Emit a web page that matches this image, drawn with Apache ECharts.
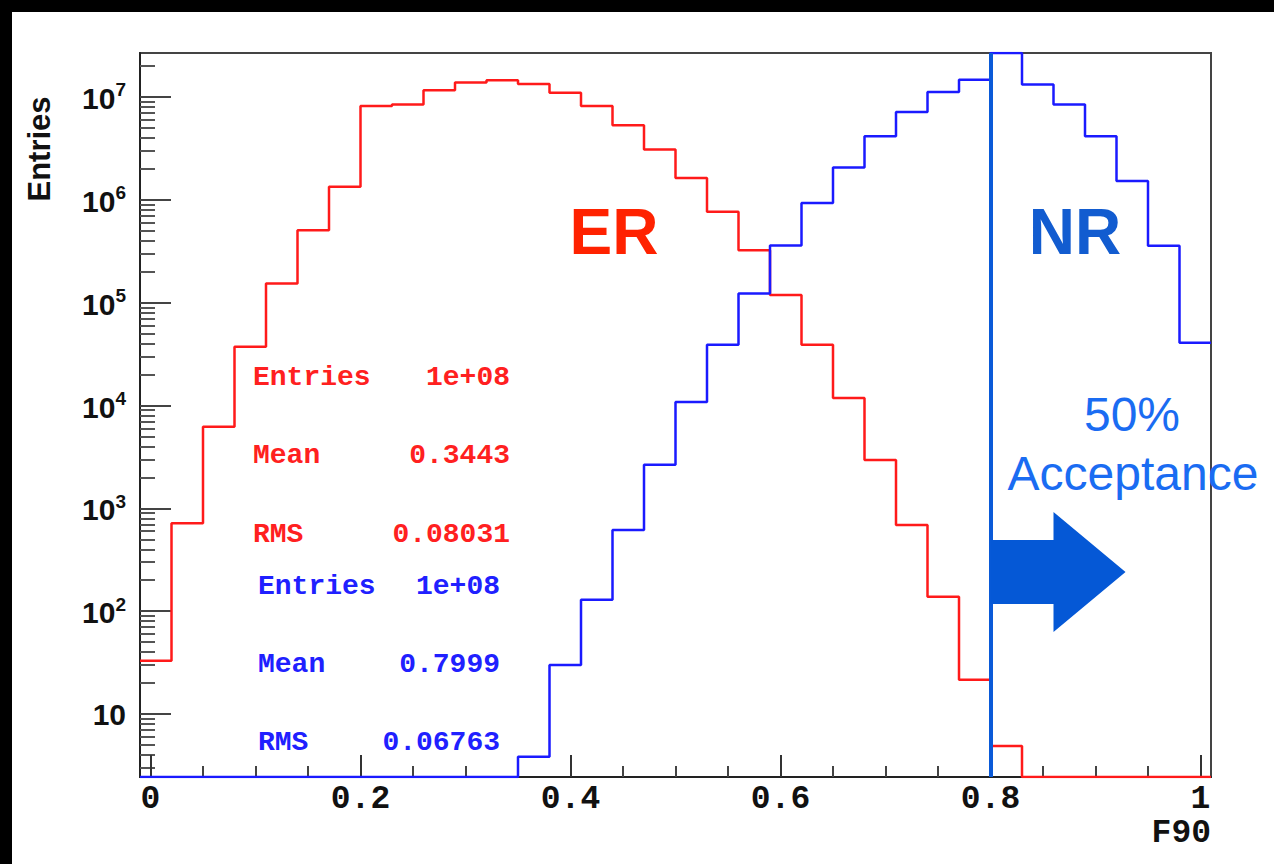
<!DOCTYPE html>
<html>
<head>
<meta charset="utf-8">
<script src="https://cdn.jsdelivr.net/npm/echarts@6/dist/echarts.min.js"></script>
<style>
html,body{margin:0;padding:0;background:#fff;}
#chart{width:1274px;height:864px;}
</style>
</head>
<body>
<div id="chart"></div>
<script>
// Bin edges of the F90 histogram (34 bins of width 0.03)
const binEdges = [-0.01,0.02,0.05,0.08,0.11,0.14,0.17,0.20,0.23,0.26,0.29,0.32,0.35,0.38,0.41,0.44,0.47,0.50,0.53,0.56,0.59,0.62,0.65,0.68,0.71,0.74,0.77,0.80,0.83,0.86,0.89,0.92,0.95,0.98,1.01];
// ER (electron recoil) entries per bin
const erCounts = [33,718,6220,37200,153800,507000,1340000,8180000,8440000,11600000,13800000,14500000,13400000,11000000,8180000,5310000,3080000,1630000,764000,324000,119000,39000,11800,2950,690,138,21.6,4.9,0,0,0,0,0,0];
// NR (nuclear recoil) entries per bin
const nrCounts = [0,0,0,0,0,0,0,0,0,0,0,0,3.85,30,129,615,2650,10800,39000,123000,359000,930000,2060000,4150000,7160000,11200000,14700000,29000000,13200000,8460000,4150000,1520000,357000,40700];
// Axis ticks
const xTickValues = [0,0.2,0.4,0.6,0.8,1];
const xMinorTickValues = [0.05,0.1,0.15,0.25,0.3,0.35,0.45,0.5,0.55,0.65,0.7,0.75,0.85,0.9,0.95];
const yDecadeValues = [10,100,1000,10000,100000,1000000,10000000];
// Stats boxes
const erStats = [['Entries','1e+08'],['Mean','0.3443'],['RMS','0.08031']];
const nrStats = [['Entries','1e+08'],['Mean','0.7999'],['RMS','0.06763']];
const cutValue = 0.8;

const yMin = 2.443, yMax = 2.676e7;
const yMinorTickValues = [];
for (let d = 1; d <= 1e7; d *= 10) {
  for (let k = 2; k <= 9; k++) {
    const v = k * d;
    if (v > yMin && v < yMax) yMinorTickValues.push(v);
  }
}

function clampY(v) { return Math.min(Math.max(v, yMin), yMax); }
function histPoints(counts) {
  return binEdges.map((x, i) => [x, clampY(counts[Math.min(i, counts.length - 1)])]);
}

const chart = echarts.init(document.getElementById('chart'), null, {renderer: 'svg'});
const axisColor = '#222';
const monoBold = {fontFamily: 'Liberation Mono', fontWeight: 'bold'};

const graphics = [
  {type:'rect', shape:{x:0,y:0,width:1274,height:12}, style:{fill:'#000'}, z:100},
  {type:'rect', shape:{x:0,y:0,width:12,height:864}, style:{fill:'#000'}, z:100},
  {type:'text', x:39, y:149, rotation:Math.PI/2, style:{text:'Entries', fontFamily:'Liberation Sans', fontWeight:'bold', fontSize:31, fill:'#111', align:'center', verticalAlign:'middle'}},
  {type:'text', x:1211, y:833, style:{text:'F90', fontFamily:'Liberation Mono', fontWeight:'bold', fontSize:33, fill:'#111', align:'right', verticalAlign:'middle'}},
  {type:'text', x:614, y:232, style:{text:'ER', fontFamily:'Liberation Sans', fontWeight:'bold', fontSize:64, fill:'#ff2200', align:'center', verticalAlign:'middle'}},
  {type:'text', x:1075, y:232, style:{text:'NR', fontFamily:'Liberation Sans', fontWeight:'bold', fontSize:64, fill:'#125cd0', align:'center', verticalAlign:'middle'}},
  {type:'text', x:1132, y:414, style:{text:'50%', fontFamily:'Liberation Sans', fontSize:48, fill:'#1a6cf2', align:'center', verticalAlign:'middle'}},
  {type:'text', x:1133, y:473, style:{text:'Acceptance', fontFamily:'Liberation Sans', fontSize:48, fill:'#1a6cf2', align:'center', verticalAlign:'middle'}}
];
const erY = [377, 455, 534], nrY = [586, 664, 742];
erStats.forEach((s, i) => {
  graphics.push({type:'text', x:253, y:erY[i], style:Object.assign({text:s[0], fontSize:28, fill:'#ff2020', align:'left', verticalAlign:'middle'}, monoBold)});
  graphics.push({type:'text', x:510, y:erY[i], style:Object.assign({text:s[1], fontSize:28, fill:'#ff2020', align:'right', verticalAlign:'middle'}, monoBold)});
});
nrStats.forEach((s, i) => {
  graphics.push({type:'text', x:258, y:nrY[i], style:Object.assign({text:s[0], fontSize:28, fill:'#2020ff', align:'left', verticalAlign:'middle'}, monoBold)});
  graphics.push({type:'text', x:500, y:nrY[i], style:Object.assign({text:s[1], fontSize:28, fill:'#2020ff', align:'right', verticalAlign:'middle'}, monoBold)});
});

const option = {
  backgroundColor: '#fff',
  animation: false,
  grid: {left:140, right:63, top:53, bottom:87, show:true, borderColor:'#444', borderWidth:2, backgroundColor:'transparent'},
  xAxis: [
    {type:'value', min:-0.01, max:1.01,
      axisLine:{show:true, onZero:false, lineStyle:{color:axisColor, width:2}},
      axisTick:{show:true, inside:true, length:22, customValues:xTickValues, lineStyle:{color:'#333', width:2}},
      axisLabel:{customValues:xTickValues, formatter:v => String(+v.toFixed(1)), fontFamily:'Liberation Mono', fontWeight:'bold', fontSize:33, color:'#111', margin:6},
      splitLine:{show:false}},
    {type:'value', min:-0.01, max:1.01, position:'bottom',
      axisLine:{show:false, onZero:false},
      axisTick:{show:true, inside:true, length:11, customValues:xMinorTickValues, lineStyle:{color:'#444', width:2}},
      axisLabel:{show:false}, splitLine:{show:false}}
  ],
  yAxis: [
    {type:'log', min:yMin, max:yMax,
      axisLine:{show:true, onZero:false, lineStyle:{color:axisColor, width:2}},
      axisTick:{show:true, inside:true, length:31, customValues:yDecadeValues, lineStyle:{color:'#444', width:2}},
      axisLabel:{customValues:yDecadeValues, margin:14, color:'#111',
        formatter: v => { const e = Math.round(Math.log10(v)); return e === 1 ? '{b|10}' : '{b|10}{s|' + e + '}'; },
        rich:{ b:{fontFamily:'Liberation Sans', fontWeight:'bold', fontSize:30, color:'#111', verticalAlign:'bottom'},
               s:{fontFamily:'Liberation Sans', fontWeight:'bold', fontSize:19, color:'#111', verticalAlign:'bottom', padding:[0,0,14,0]} }},
      splitLine:{show:false}},
    {type:'log', min:yMin, max:yMax, position:'left',
      axisLine:{show:false, onZero:false},
      axisTick:{show:true, inside:true, length:15, customValues:yMinorTickValues, lineStyle:{color:'#555', width:2}},
      axisLabel:{show:false}, splitLine:{show:false}}
  ],
  graphic: graphics,
  series: [
    {name:'ER', type:'line', step:'end', symbol:'none', data:histPoints(erCounts),
      lineStyle:{color:'#ff1a1a', width:2.5}, z:3},
    {name:'NR', type:'line', step:'end', symbol:'none', data:histPoints(nrCounts),
      lineStyle:{color:'#1a1aff', width:2.5}, z:4,
      markLine:{silent:true, symbol:['none','none'], label:{show:false},
        lineStyle:{color:'#0a5ad8', width:4, type:'solid'}, data:[{xAxis:cutValue}]}},
    {name:'arrow', type:'custom', z:5, silent:true,
      data:[[cutValue, 241, 0.9286, 0.86]],
      renderItem:(params, api) => {
        const base = api.coord([api.value(0), api.value(1)]);
        const tipX = api.coord([api.value(2), api.value(1)])[0];
        const headX = api.coord([api.value(3), api.value(1)])[0];
        const y = base[1], x0 = base[0];
        return {type:'polygon', shape:{points:[[x0,y-32],[headX,y-32],[headX,y-60],[tipX,y],[headX,y+60],[headX,y+32],[x0,y+32]]}, style:{fill:'#0558d6'}};
      }}
  ]
};
chart.setOption(option);
</script>
</body>
</html>
